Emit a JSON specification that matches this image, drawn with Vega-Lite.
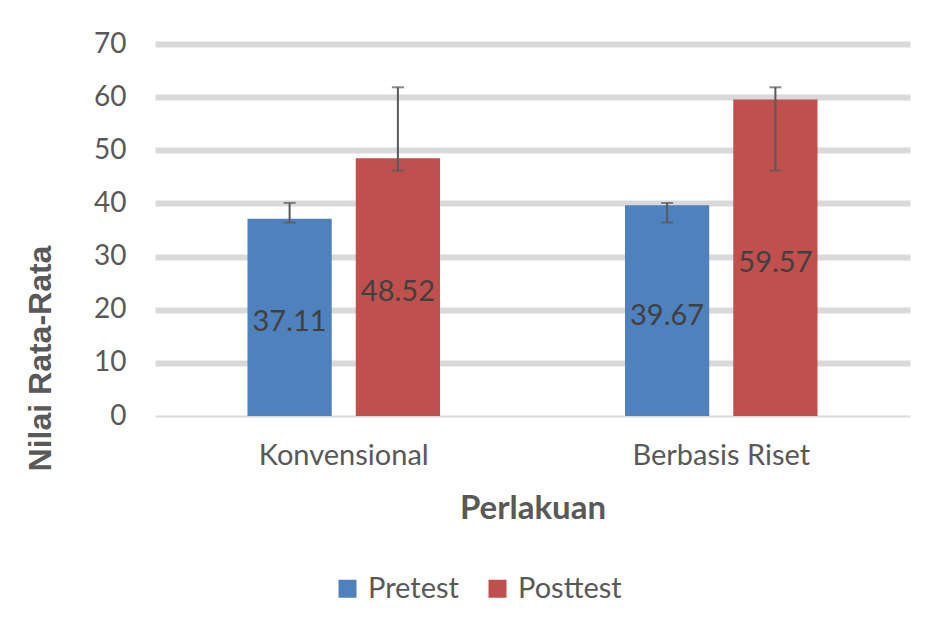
{
  "$schema": "https://vega.github.io/schema/vega-lite/v6.json",
  "width": 755,
  "height": 372,
  "autosize": {"type": "none"},
  "padding": {"left": 155, "top": 44, "right": 16, "bottom": 209},
  "background": "white",
  "config": {
    "view": {"stroke": null},
    "font": "Lato"
  },
  "data": {
    "values": [
      {"group": "Konvensional", "series": "Pretest", "value": 37.11, "low": 36.4, "high": 40.1},
      {"group": "Konvensional", "series": "Posttest", "value": 48.52, "low": 46.2, "high": 61.85},
      {"group": "Berbasis Riset", "series": "Pretest", "value": 39.67, "low": 36.4, "high": 40.1},
      {"group": "Berbasis Riset", "series": "Posttest", "value": 59.57, "low": 46.2, "high": 61.85}
    ]
  },
  "encoding": {
    "x": {
      "field": "group",
      "type": "nominal",
      "sort": ["Konvensional", "Berbasis Riset"],
      "scale": {"paddingInner": 0.49, "paddingOuter": 0.245},
      "axis": {
        "title": "Perlakuan",
        "labelAngle": 0,
        "labelFontSize": 29,
        "labelColor": "#595959",
        "labelPadding": 25,
        "domain": false,
        "ticks": false,
        "titleFontSize": 33,
        "titleFontWeight": "bold",
        "titleColor": "#595959",
        "titleBaseline": "middle",
        "titleY": 92
      }
    },
    "xOffset": {
      "field": "series",
      "type": "nominal",
      "sort": ["Pretest", "Posttest"],
      "scale": {"paddingInner": 0.222, "paddingOuter": 0}
    }
  },
  "layer": [
    {
      "mark": {"type": "bar"},
      "encoding": {
        "y": {
          "field": "value",
          "type": "quantitative",
          "scale": {"domain": [0, 70], "nice": false},
          "axis": {
            "title": "Nilai Rata-Rata",
            "values": [0, 10, 20, 30, 40, 50, 60, 70],
            "labelFontSize": 28,
            "labelColor": "#595959",
            "labelPadding": 29,
            "domain": false,
            "ticks": false,
            "grid": true,
            "gridColor": "#d9d9d9",
            "gridWidth": {"condition": {"test": "datum.value === 0", "value": 2}, "value": 6},
            "titleFont": "Liberation Sans",
            "titleFontSize": 32,
            "titleFontWeight": "bold",
            "titleColor": "#595959",
            "titleAngle": -90,
            "titleAlign": "center",
            "titleBaseline": "middle",
            "titleX": -115,
            "titleY": 314
          }
        },
        "color": {
          "field": "series",
          "type": "nominal",
          "sort": ["Pretest", "Posttest"],
          "scale": {"domain": ["Pretest", "Posttest"], "range": ["#4F81BD", "#C0504D"]},
          "legend": {
            "title": null,
            "orient": "none",
            "direction": "horizontal",
            "legendX": 178,
            "legendY": 530,
            "symbolType": "square",
            "symbolSize": 324,
            "symbolStrokeWidth": 0,
            "labelFontSize": 29,
            "labelColor": "#595959",
            "labelOffset": 6,
            "columnPadding": 24
          }
        }
      }
    },
    {
      "transform": [{"calculate": "datum.value / 2", "as": "mid"}],
      "mark": {"type": "text", "fontSize": 29, "color": "#404040", "baseline": "middle", "align": "center", "dy": 5},
      "encoding": {
        "y": {"field": "mid", "type": "quantitative"},
        "text": {"field": "value", "type": "quantitative", "format": ".2f"}
      }
    },
    {
      "mark": {"type": "rule", "color": "#595959", "strokeWidth": 2},
      "encoding": {
        "y": {"field": "low", "type": "quantitative"},
        "y2": {"field": "high"}
      }
    },
    {
      "mark": {"type": "tick", "color": "#595959", "thickness": 2, "size": 12, "orient": "horizontal"},
      "encoding": {
        "y": {"field": "low", "type": "quantitative"}
      }
    },
    {
      "mark": {"type": "tick", "color": "#595959", "thickness": 2, "size": 12, "orient": "horizontal"},
      "encoding": {
        "y": {"field": "high", "type": "quantitative"}
      }
    }
  ]
}
